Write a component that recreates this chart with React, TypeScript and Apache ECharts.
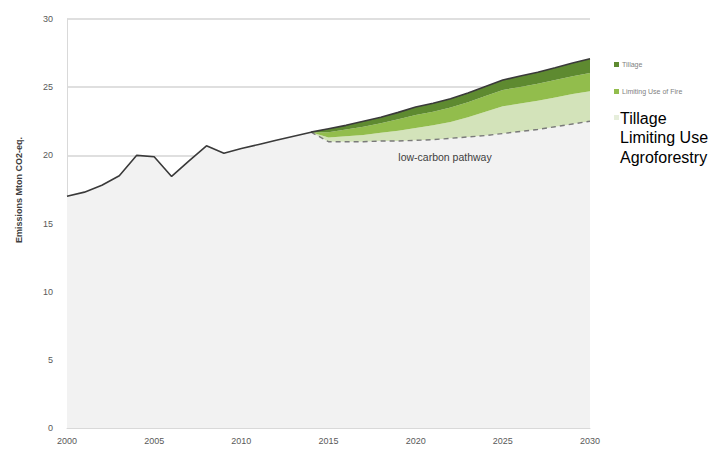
import React, { useEffect, useRef } from "react";
import * as echarts from "echarts";

const years: string[] = [];
for (let y = 2000; y <= 2030; y++) years.push(String(y));

// Historical emissions 2000-2014 (Mton CO2-eq.)
const historical = [17.0, 17.3, 17.8, 18.5, 20.0, 19.9, 18.45, 19.6, 20.7, 20.15, 20.5, 20.8, 21.1, 21.4, 21.7];
// Low-carbon pathway 2015-2030
const lowCarbon = [21.0, 21.0, 21.0, 21.05, 21.05, 21.1, 21.15, 21.25, 21.35, 21.45, 21.6, 21.75, 21.9, 22.1, 22.3, 22.5];
// Mitigation wedges 2015-2030
const agroforestry = [0.3, 0.4, 0.5, 0.6, 0.75, 0.9, 1.05, 1.2, 1.45, 1.75, 2.0, 2.05, 2.1, 2.15, 2.2, 2.2];
const limitingFire = [0.4, 0.5, 0.6, 0.7, 0.85, 0.95, 1.0, 1.05, 1.1, 1.15, 1.2, 1.22, 1.25, 1.28, 1.3, 1.33];
const tillage = [0.25, 0.3, 0.4, 0.45, 0.5, 0.6, 0.62, 0.65, 0.68, 0.7, 0.72, 0.8, 0.85, 0.9, 0.97, 1.05];

const yTicks = { min: 0, max: 30, interval: 5 };

const C_TILL = "#5e8a30";
const C_FIRE = "#92bd4c";
const C_AGRO = "#d3e3ba";

export default function App() {
  const ref = useRef<HTMLDivElement>(null);
  useEffect(() => {
    if (!ref.current) return;
    const chart = echarts.init(ref.current, undefined, { renderer: "svg" });
    const nHist = historical.length;
    const base = [...historical, ...lowCarbon];
    const pad = (arr: number[]) => [...new Array(nHist).fill(0), ...arr];
    const dashed = [...new Array(nHist - 1).fill(null), historical[nHist - 1], ...lowCarbon];
    const font = "Liberation Sans";
    chart.setOption({
      animation: false,
      grid: { left: 67, right: 132, top: 19, bottom: 23 },
      xAxis: {
        type: "category",
        data: years,
        boundaryGap: false,
        axisLine: { lineStyle: { color: "#d9d9d9", width: 1 } },
        axisTick: { show: false },
        axisLabel: { interval: 4, color: "#595959", fontSize: 9, fontFamily: font, margin: 8 },
        splitLine: { show: false },
      },
      yAxis: {
        type: "value",
        min: yTicks.min,
        max: yTicks.max,
        interval: yTicks.interval,
        axisLine: { show: true, lineStyle: { color: "#d9d9d9", width: 1 } },
        axisTick: { show: false },
        axisLabel: { color: "#595959", fontSize: 9, fontFamily: font, margin: 14 },
        splitLine: { lineStyle: { color: "#d4d4d4", width: 1.5 } },
      },
      series: [
        {
          name: "base",
          type: "line",
          stack: "s",
          data: base,
          symbol: "none",
          lineStyle: { width: 0 },
          areaStyle: { color: "#f2f2f2", opacity: 1 },
          z: 2,
        },
        {
          name: "Agroforestry",
          type: "line",
          stack: "s",
          data: pad(agroforestry),
          symbol: "none",
          lineStyle: { width: 0 },
          areaStyle: { color: C_AGRO, opacity: 1 },
          z: 3,
        },
        {
          name: "Limiting Use of Fire",
          type: "line",
          stack: "s",
          data: pad(limitingFire),
          symbol: "none",
          lineStyle: { width: 0 },
          areaStyle: { color: C_FIRE, opacity: 1 },
          z: 4,
        },
        {
          name: "Tillage",
          type: "line",
          stack: "s",
          data: pad(tillage),
          symbol: "none",
          lineStyle: { width: 1.6, color: "#3a3a3a" },
          areaStyle: { color: C_TILL, opacity: 1 },
          z: 6,
        },
        {
          name: "low-carbon pathway",
          type: "line",
          data: dashed,
          symbol: "none",
          lineStyle: { width: 1.4, color: "#7a7a7a", type: [5, 4] },
          z: 5,
        },
      ],
      graphic: [
        {
          type: "text",
          x: 19,
          y: 190,
          z: 100,
          rotation: Math.PI / 2,
          style: {
            text: "Emissions Mton CO2-eq.",
            fill: "#404040",
            font: `bold 9px "${font}"`,
            align: "center",
            verticalAlign: "middle",
          },
        },
        {
          type: "text",
          x: 445,
          y: 157,
          z: 100,
          style: {
            text: "low-carbon pathway",
            fill: "#404040",
            font: `10.5px "${font}"`,
            align: "center",
            verticalAlign: "middle",
          },
        },
        { type: "rect", z: 100, shape: { x: 614, y: 62, width: 5, height: 5 }, style: { fill: C_TILL } },
        {
          type: "text",
          x: 622,
          y: 64.5,
          z: 100,
          style: { text: "Tillage", fill: "#7f7f7f", font: `7px "${font}"`, verticalAlign: "middle" },
        },
        { type: "rect", z: 100, shape: { x: 614, y: 89, width: 5, height: 5 }, style: { fill: C_FIRE } },
        {
          type: "text",
          x: 622,
          y: 91.5,
          z: 100,
          style: { text: "Limiting Use of Fire", fill: "#7f7f7f", font: `7px "${font}"`, verticalAlign: "middle" },
        },
        { type: "rect", z: 100, shape: { x: 614, y: 115, width: 5, height: 5 }, style: { fill: "#e6eedb" } },
        {
          type: "text",
          x: 620,
          y: 118,
          z: 100,
          style: { text: "Tillage", fill: "#000000", font: `16px "${font}"`, verticalAlign: "middle" },
        },
        {
          type: "text",
          x: 620,
          y: 137.5,
          z: 100,
          style: { text: "Limiting Use", fill: "#000000", font: `16px "${font}"`, verticalAlign: "middle" },
        },
        {
          type: "text",
          x: 620,
          y: 157,
          z: 100,
          style: { text: "Agroforestry", fill: "#000000", font: `16px "${font}"`, verticalAlign: "middle" },
        },
      ],
    });
    return () => chart.dispose();
  }, []);
  return (
    <div
      ref={ref}
      style={{ position: "absolute", left: 0, top: 0, width: 722, height: 451, background: "#ffffff" }}
    />
  );
}
